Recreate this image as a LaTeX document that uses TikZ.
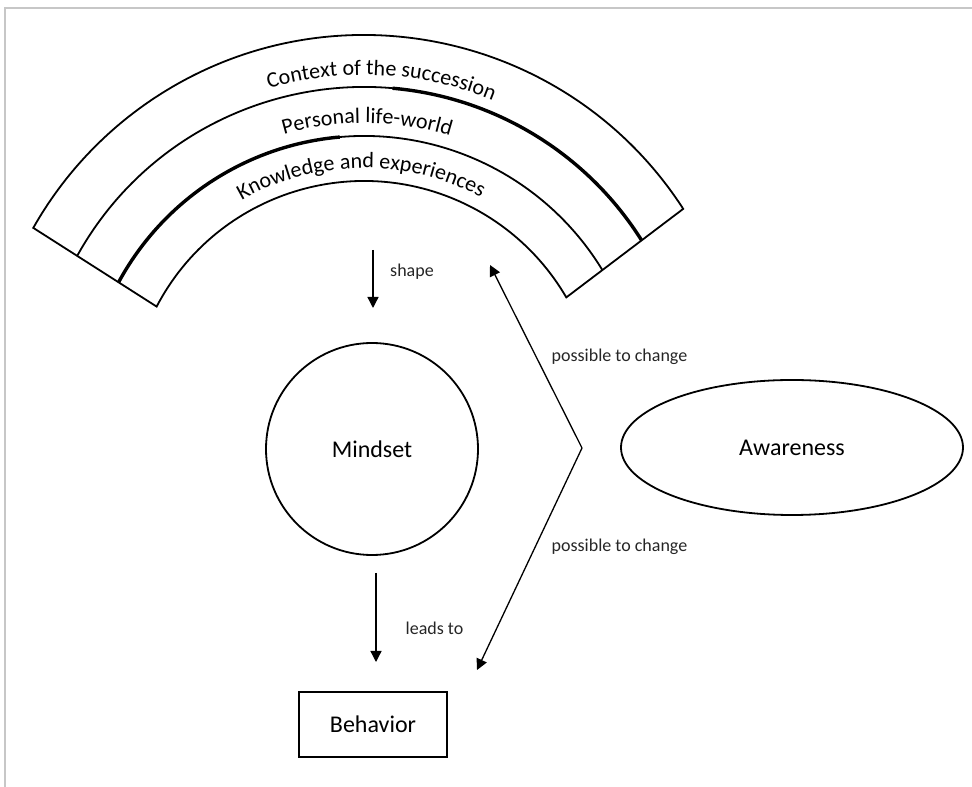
\documentclass[tikz,border=0pt]{standalone}
\usepackage{fontspec}
\setmainfont{Carlito}
\usetikzlibrary{shapes.geometric,arrows.meta,decorations.text}
\begin{document}
\begin{tikzpicture}[x=1pt,y=1pt,
  arcline/.style={line width=1.8pt, line join=miter},
  thickarc/.style={line width=3.4pt},
  conn/.style={line width=1.3pt, -{Triangle[width=11pt,length=11pt]}},
  lbl/.style={font=\fontsize{18}{20}\selectfont, text=black!85, inner sep=0pt},
  shapebox/.style={draw, line width=1.8pt, font=\fontsize{24}{28}\selectfont, inner sep=0pt},
  arctext/.style={decorate, decoration={text along path, text align=center, text={#1}}}
]
\useasboundingbox (0,0) rectangle (972,787);
\draw[black!22, line width=2pt] (5,0) -- (5,778.5) -- (972,778.5);

% sector of rings
\coordinate (C) at (364,372);
\draw[arcline] ([shift={(32.85:380)}]C) arc[start angle=32.85, end angle=150.5, radius=380]
  -- ([shift={(152.4:234)}]C) arc[start angle=152.4, end angle=30.17, radius=234] -- cycle;
\draw[arcline] ([shift={(151.0:328)}]C) arc[start angle=151.0, end angle=32.17, radius=328];
\draw[thickarc] ([shift={(85:328)}]C) arc[start angle=85, end angle=32.17, radius=328];
\draw[arcline] ([shift={(151.6:279)}]C) arc[start angle=151.6, end angle=31.27, radius=279];
\draw[thickarc] ([shift={(151.6:279)}]C) arc[start angle=151.6, end angle=95, radius=279];

% curved texts
\path[arctext={|\fontsize{22}{24}\selectfont|Context of the succession}]
  ([shift={(132:340)}]C) arc[start angle=132, end angle=42, radius=340];
\path[arctext={|\fontsize{22}{24}\selectfont|Personal life-world}]
  ([shift={(134.4:292)}]C) arc[start angle=134.4, end angle=44.4, radius=292];
\path[arctext={|\fontsize{22}{24}\selectfont|Knowledge and experiences}]
  ([shift={(140.7:247)}]C) arc[start angle=140.7, end angle=40.7, radius=247];

% main shapes
\node[shapebox, circle, minimum size=212pt] (mindset) at (372,338) {Mindset};
\node[shapebox, ellipse, minimum width=342pt, minimum height=135pt] (awareness) at (792,339.5) {Awareness};
\node[shapebox, rectangle, minimum width=148pt, minimum height=65pt] (behavior) at (373,62.5) {Behavior};

% connectors
\coordinate (shapeS) at (373,537);
\coordinate (shapeE) at (373,479);
\draw[conn] (shapeS) -- (shapeE);
\node[lbl] (shapelbl) at (412,515) {shape};

\coordinate (leadS) at (376,214);
\coordinate (leadE) at (376,125);
\draw[conn] (leadS) -- (leadE);
\node[lbl] (leadlbl) at (434.5,159) {leads to};

\coordinate (V) at (582,339);
\coordinate (T1) at (490,522);
\coordinate (T2) at (477,117);
\draw[conn] (V) -- (T1);
\draw[conn] (V) -- (T2);
\node[lbl] (chg1) at (619.5,430) {possible to change};
\node[lbl] (chg2) at (619.5,240) {possible to change};
\end{tikzpicture}
\end{document}
